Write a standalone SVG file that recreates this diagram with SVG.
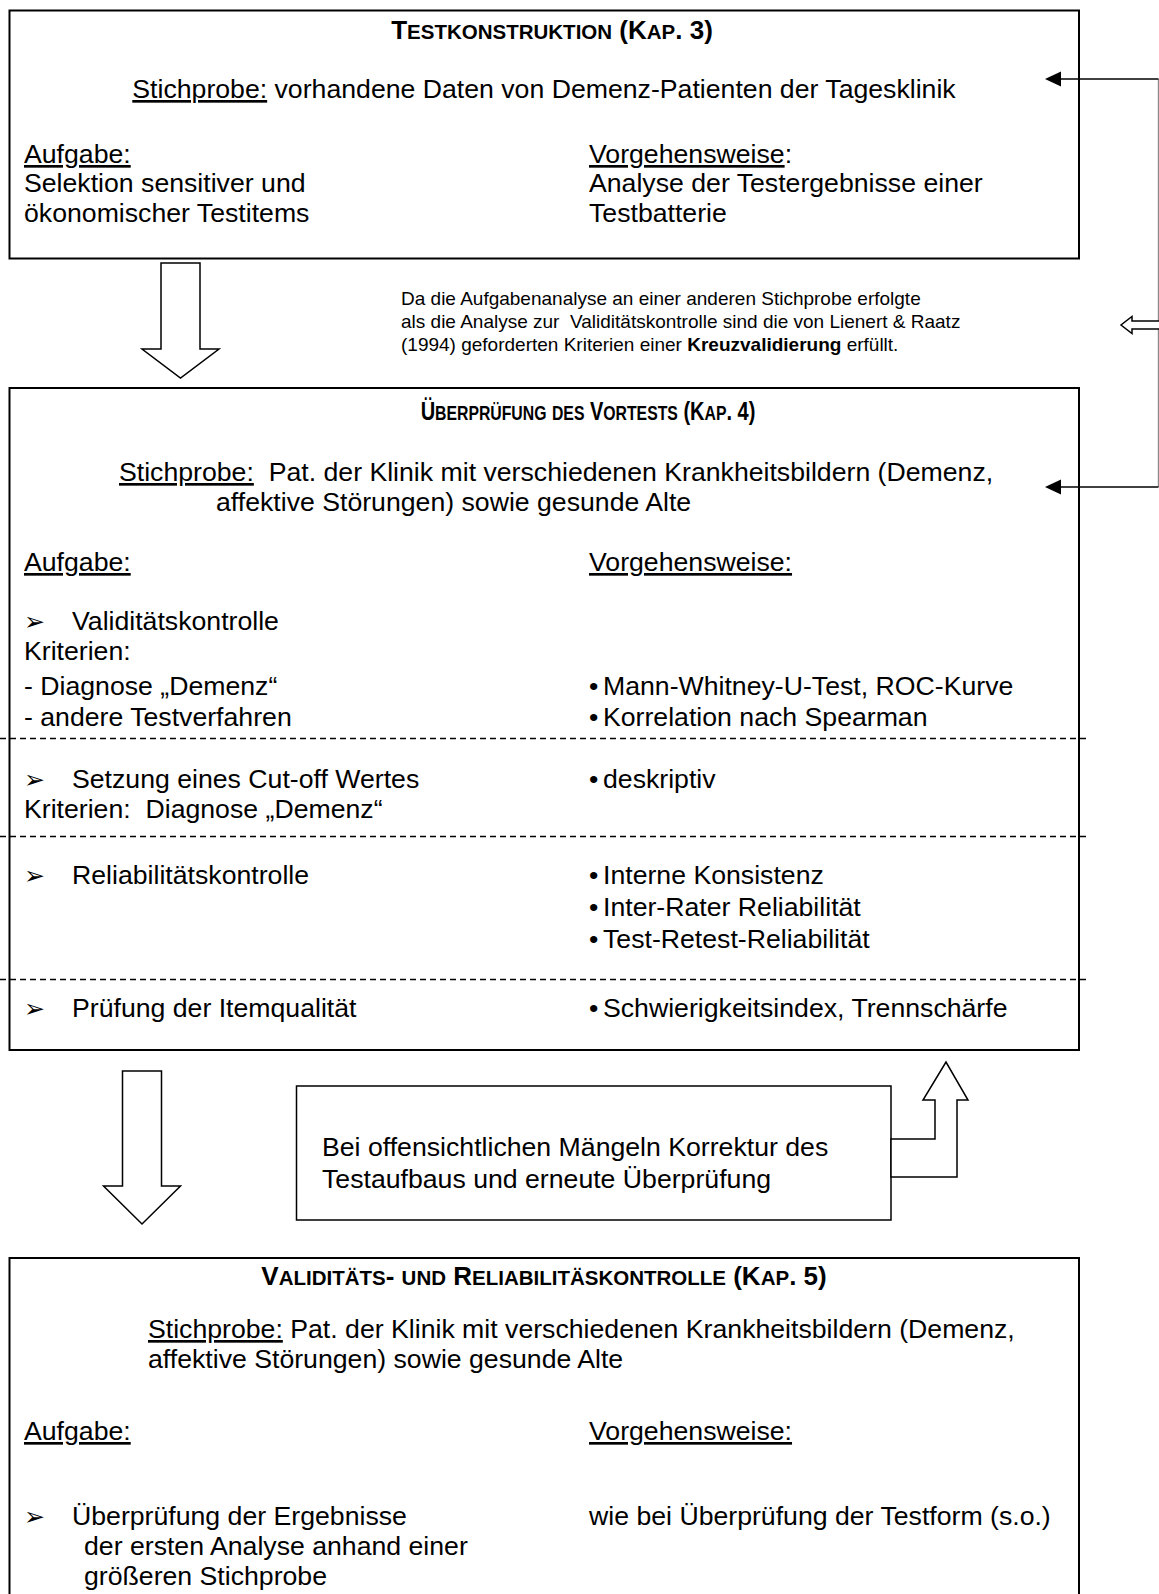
<svg xmlns="http://www.w3.org/2000/svg" width="1159" height="1594" viewBox="0 0 1159 1594">
<style>
text{font-family:"Liberation Sans",Arial,sans-serif;fill:#000}
.t{font-size:26.67px}
.n{font-size:19px}
.h{font-size:26px;font-weight:bold}
.sc{font-size:20.5px}
.u{text-decoration:underline}
.box{fill:none;stroke:#000;stroke-width:2}
.thin{fill:#fff;stroke:#000;stroke-width:1.5}
.dash{stroke:#000;stroke-width:1.3;stroke-dasharray:6 4;fill:none}
.ln{stroke:#000;stroke-width:1.4;fill:none}
.bl{font-family:"DejaVu Sans",sans-serif;font-size:25px}
</style>
<rect width="1159" height="1594" fill="#fff"/>

<g id="box1">
<rect x="9.5" y="10.5" width="1069.5" height="248" class="box"/>
<text class="h" x="552" y="39" text-anchor="middle">T<tspan class="sc">ESTKONSTRUKTION</tspan> (K<tspan class="sc">AP</tspan>. 3)</text>
<text class="t" x="544" y="98" text-anchor="middle"><tspan class="u">Stichprobe:</tspan> vorhandene Daten von Demenz-Patienten der Tagesklinik</text>
<text class="t u" x="24" y="163">Aufgabe:</text>
<text class="t" x="24" y="192">Selektion sensitiver und</text>
<text class="t" x="24" y="222">ökonomischer Testitems</text>
<text class="t" x="589" y="163"><tspan class="u">Vorgehensweise</tspan>:</text>
<text class="t" x="589" y="192">Analyse der Testergebnisse einer</text>
<text class="t" x="589" y="222">Testbatterie</text>
</g>

<g id="note">
<text class="n" x="401" y="305">Da die Aufgabenanalyse an einer anderen Stichprobe erfolgte</text>
<text class="n" x="401" y="328" xml:space="preserve">als die Analyse zur  Validitätskontrolle sind die von Lienert &amp; Raatz</text>
<text class="n" x="401" y="351">(1994) geforderten Kriterien einer <tspan font-weight="bold">Kreuzvalidierung</tspan> erfüllt.</text>
</g>

<g id="box2">
<rect x="9.5" y="388" width="1069.5" height="662" class="box"/>
<text class="h" transform="translate(588,420) scale(0.77,1)" x="0" y="0" text-anchor="middle">Ü<tspan class="sc">BERPRÜFUNG</tspan> <tspan class="sc">DES</tspan> V<tspan class="sc">ORTESTS</tspan> (K<tspan class="sc">AP</tspan>. 4)</text>
<text class="t" x="119" y="481" xml:space="preserve"><tspan class="u">Stichprobe:</tspan>  Pat. der Klinik mit verschiedenen Krankheitsbildern (Demenz,</text>
<text class="t" x="216" y="511">affektive Störungen) sowie gesunde Alte</text>
<text class="t u" x="24" y="571">Aufgabe:</text>
<text class="t u" x="589" y="571">Vorgehensweise:</text>
<text class="bl" x="24" y="630">➢</text>
<text class="t" x="72" y="630">Validitätskontrolle</text>
<text class="t" x="24" y="660">Kriterien:</text>
<text class="t" x="24" y="695">- Diagnose „Demenz“</text>
<text class="t" x="24" y="726">- andere Testverfahren</text>
<text class="t" x="589" y="695">•<tspan x="603">Mann-Whitney-U-Test, ROC-Kurve</tspan></text>
<text class="t" x="589" y="726">•<tspan x="603">Korrelation nach Spearman</tspan></text>
<line x1="0" y1="738.5" x2="1086" y2="738.5" class="dash"/>
<text class="bl" x="24" y="788">➢</text>
<text class="t" x="72" y="788">Setzung eines Cut-off Wertes</text>
<text class="t" x="24" y="818" xml:space="preserve">Kriterien:  Diagnose „Demenz“</text>
<text class="t" x="589" y="788">•<tspan x="603">deskriptiv</tspan></text>
<line x1="0" y1="836.5" x2="1086" y2="836.5" class="dash"/>
<text class="bl" x="24" y="884">➢</text>
<text class="t" x="72" y="884">Reliabilitätskontrolle</text>
<text class="t" x="589" y="884">•<tspan x="603">Interne Konsistenz</tspan></text>
<text class="t" x="589" y="916">•<tspan x="603">Inter-Rater Reliabilität</tspan></text>
<text class="t" x="589" y="948">•<tspan x="603">Test-Retest-Reliabilität</tspan></text>
<line x1="0" y1="979.5" x2="1086" y2="979.5" class="dash"/>
<text class="bl" x="24" y="1017">➢</text>
<text class="t" x="72" y="1017">Prüfung der Itemqualität</text>
<text class="t" x="589" y="1017">•<tspan x="603">Schwierigkeitsindex, Trennschärfe</tspan></text>
</g>

<g id="box3">
<rect x="296.5" y="1086" width="594.5" height="134" class="thin"/>
<text class="t" x="322" y="1156">Bei offensichtlichen Mängeln Korrektur des</text>
<text class="t" x="322" y="1188">Testaufbaus und erneute Überprüfung</text>
</g>

<g id="box4">
<rect x="9.5" y="1258" width="1069.5" height="400" class="box"/>
<text class="h" x="544" y="1285" text-anchor="middle">V<tspan class="sc">ALIDITÄTS</tspan>- <tspan class="sc">UND</tspan> R<tspan class="sc">ELIABILITÄSKONTROLLE</tspan> (K<tspan class="sc">AP</tspan>. 5)</text>
<text class="t" x="148" y="1338"><tspan class="u">Stichprobe:</tspan> Pat. der Klinik mit verschiedenen Krankheitsbildern (Demenz,</text>
<text class="t" x="148" y="1368">affektive Störungen) sowie gesunde Alte</text>
<text class="t u" x="24" y="1440">Aufgabe:</text>
<text class="t u" x="589" y="1440">Vorgehensweise:</text>
<text class="bl" x="24" y="1525">➢</text>
<text class="t" x="72" y="1525">Überprüfung der Ergebnisse</text>
<text class="t" x="84" y="1555">der ersten Analyse anhand einer</text>
<text class="t" x="84" y="1585">größeren Stichprobe</text>
<text class="t" x="589" y="1525">wie bei Überprüfung der Testform (s.o.)</text>
</g>

<g id="connectors">
<line x1="1158.5" y1="79" x2="1158.5" y2="487" stroke="#8a8a8a" stroke-width="1.4"/>
<line x1="1158.5" y1="79" x2="1060" y2="79" class="ln"/>
<path d="M1045,79 L1061,71.5 L1061,86.5 Z" fill="#000"/>
<line x1="1158.5" y1="487" x2="1060" y2="487" class="ln"/>
<path d="M1045,487 L1061,479.5 L1061,494.5 Z" fill="#000"/>
<polygon points="1160,321 1132,321 1132,316.5 1121,325 1132,333.5 1132,329 1160,329" class="thin"/>
<polygon id="arrow1" points="161,263 200,263 200,349 219,349 180.5,378 142,349 161,349" class="thin"/>
<polygon id="arrow2" points="122.5,1071 161.5,1071 161.5,1186 180.5,1186 142,1224 103.5,1186 122.5,1186" class="thin"/>
<polygon id="arrow3" points="891,1139 935,1139 935,1100 923,1100 946,1062 968,1100 957,1100 957,1177 891,1177" class="thin"/>
</g>
</svg>
